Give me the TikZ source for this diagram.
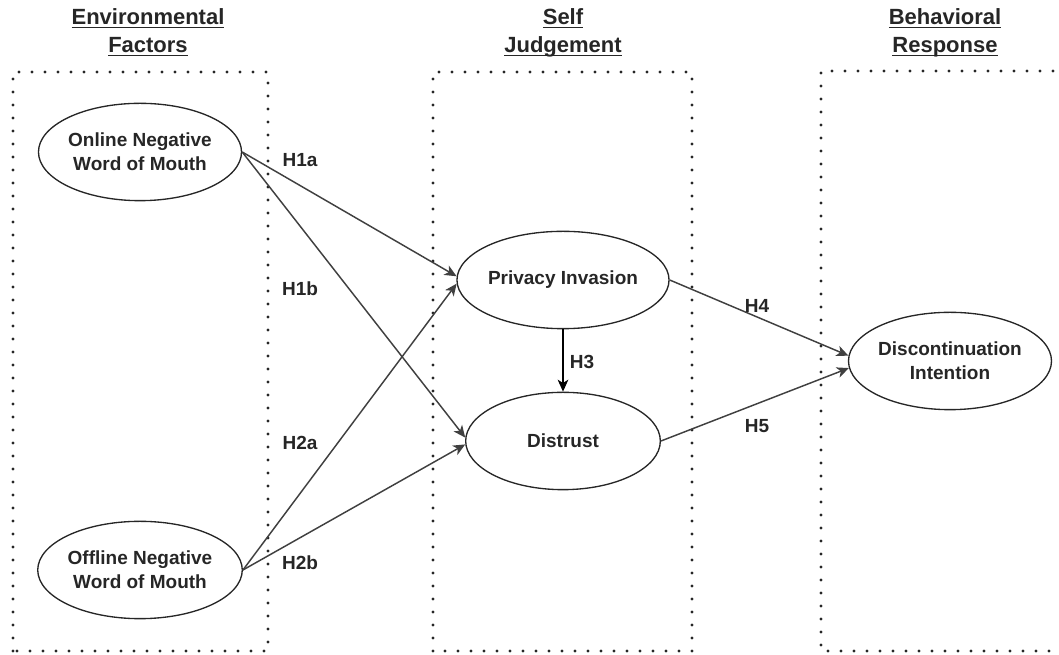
\documentclass[tikz,border=0pt]{standalone}
\usepackage{amsmath}
\usepackage{fontspec}
\setmainfont{Liberation Sans}
\usetikzlibrary{shapes.geometric,arrows.meta}
\newcommand{\constructwidth}{146pt}
\newcommand{\constructheight}{73pt}
\newcommand{\headtext}[1]{\underline{\smash[b]{#1}}}
\tikzset{
    construct/.style={ellipse,draw=black!85,line width=1pt,minimum width=\constructwidth,
        minimum height=\constructheight,inner sep=0pt,align=center,text=black!85,
        font=\bfseries\fontsize{14.25}{18}\selectfont},
    hypo/.style={inner sep=0pt,text=black!85,font=\bfseries\fontsize{14.25}{18}\selectfont},
    stage/.style={align=center,text=black!85,font=\bfseries\fontsize{16.5}{21}\selectfont},
    stagebox/.style={draw=black!85,line width=2.4pt,line cap=round,dash pattern=on 0pt off 9.75pt},
    hypoline/.style={draw=black!75,line width=1.1pt,-{Stealth[length=9pt,width=8pt,inset=2.5pt]}}
}

\begin{document}
\begin{tikzpicture}[x=0.75pt,y=0.75pt]

% canvas 1059 x 655 px, origin bottom left
\useasboundingbox (0,0) rectangle (1059,655);

% stage boxes (the third one runs off the right edge)
\draw[stagebox] (13,4) rectangle (268,583);
\draw[stagebox] (433,4) rectangle (692,583);
\draw[stagebox] (1075,4) -- (821,4) -- (821,584) -- (1075,584);

% stage titles
\node[stage] (envfac) at (148,622) {\headtext{Environmental}\\\headtext{Factors}};
\node[stage] (selfjud) at (563,622) {\headtext{Self}\\\headtext{Judgement}};
\node[stage] (behres) at (945,622) {\headtext{Behavioral}\\\headtext{Response}};

% constructs
\node[construct] (onwom) at (140,503) {Online Negative\\Word of Mouth};
\node[construct] (offwom) at (140,85) {Offline Negative\\Word of Mouth};
\node[construct] (privinv) at (563,375) {Privacy Invasion};
\node[construct] (distrust) at (563,214) {Distrust};
\node[construct] (discint) at (950,294) {Discontinuation\\Intention};

% hypothesised paths
\draw[hypoline] (onwom.east) -- (privinv.178);
\draw[hypoline] (onwom.east) -- (distrust.178);
\draw[hypoline] (offwom.east) -- (privinv.182);
\draw[hypoline] (offwom.east) -- (distrust.182);
\draw[hypoline,draw=black] (privinv) -- (distrust);
\draw[hypoline] (privinv.east) -- (discint.177);
\draw[hypoline] (distrust.east) -- (discint.184);

\foreach \hname/\hx/\hy in {H1a/300/495, H1b/300/366, H2a/300/212, H2b/300/92,
    H3/582/293, H4/757/349, H5/757/229}
    \node[hypo] (\hname) at (\hx,\hy) {\hname};

\end{tikzpicture}
\end{document}
